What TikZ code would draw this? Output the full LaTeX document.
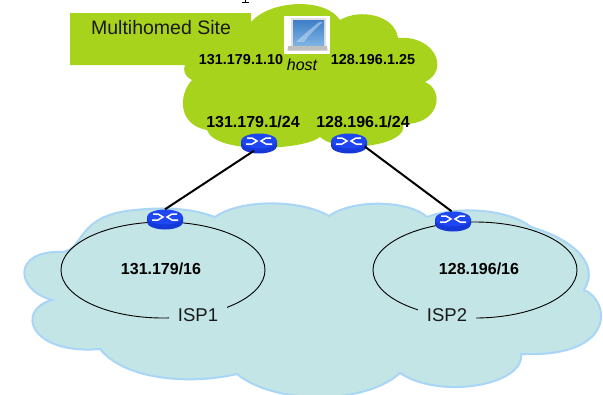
\documentclass[tikz,border=0pt]{standalone}
\usepackage{fontspec}
\setmainfont{Liberation Sans}
\usetikzlibrary{shapes.geometric}
\definecolor{sitegreen}{HTML}{A8D31C}
\definecolor{ispfill}{HTML}{C3E5E6}
\definecolor{ispedge}{HTML}{A9D5F6}
\definecolor{routerblue}{HTML}{1E46F2}
\definecolor{routerdark}{HTML}{1538D8}
\definecolor{screentop}{HTML}{3F7FC8}
\definecolor{screenlow}{HTML}{7DB2E2}
\tikzset{
  routerbase/.style={ellipse,minimum width=36pt,minimum height=15pt,inner sep=0pt,fill=routerblue},
  addr/.style={font=\bfseries\fontsize{14.4}{14.4}\selectfont,text=black,inner sep=0pt},
  subnet/.style={font=\bfseries\fontsize{16}{16}\selectfont,text=black,inner sep=0pt},
  plain/.style={font=\fontsize{18.5}{18.5}\selectfont,text=black!90,inner sep=0pt},
  link/.style={black,line width=2pt},
  isp/.style={draw=black,line width=0.9pt},
  ispname/.style={plain,fill=ispfill,text width=#1,align=center,minimum height=20pt}
}
\newcommand{\routerat}[3]{%
  \fill[routerdark] (#2-18,#3) -- (#2-18,#3+5) arc[start angle=180,end angle=0,x radius=18,y radius=7.5] -- (#2+18,#3) -- cycle;
  \node[routerbase] (#1) at (#2,#3) {};
  \draw[white,line width=1.5pt] (#2-12,#3-3) -- (#2-7,#3-3) -- (#2-2,#3) -- (#2-7,#3+3) -- (#2-13,#3+3)
        (#2+12,#3-3) -- (#2+7,#3-3) -- (#2+2,#3) -- (#2+7,#3+3) -- (#2+13,#3+3);
}
\begin{document}
\begin{tikzpicture}[x=1pt,y=-1pt]
\useasboundingbox (0,0) rectangle (603,394);
\begin{scope}
\clip (0,0) rectangle (603,394);
\fill[white] (0,0) rectangle (603,394);
% ISP cloud
\draw[fill=ispfill,draw=ispedge,line width=2pt]
  (215,217) .. controls (240,199) and (300,199) .. (329,216)
  .. controls (355,198) and (410,201) .. (427,217)
  .. controls (460,205) and (510,210) .. (531,227)
  .. controls (575,240) and (600,265) .. (584,290)
  .. controls (610,300) and (618,358) .. (521,354)
  .. controls (525,385) and (440,400) .. (400,373)
  .. controls (365,405) and (275,405) .. (237,374)
  .. controls (190,385) and (125,380) .. (100,349)
  .. controls (30,355) and (15,310) .. (52,300)
  .. controls (15,290) and (12,250) .. (62,252)
  .. controls (85,250) and (75,215) .. (135,210)
  .. controls (165,207) and (190,208) .. (215,217) -- cycle;
% Site cloud with label tab
\fill[sitegreen]
  (70,13) -- (251,13) -- (251,22)
  .. controls (270,0) and (325,-3) .. (340,20)
  .. controls (360,8) and (395,15) .. (398,38)
  .. controls (435,35) and (450,70) .. (425,82)
  .. controls (445,90) and (440,125) .. (403,124)
  .. controls (410,145) and (340,155) .. (320,137)
  .. controls (305,150) and (215,155) .. (207,130)
  .. controls (178,125) and (178,95) .. (192,80)
  .. controls (184,76) and (183,70) .. (185,65)
  -- (70,65) -- cycle;
\draw[black,line width=0.9pt] (242,2.6) -- (249,2.6) (245.5,0) -- (245.5,2.6);
\end{scope}
% provider rings
\draw[isp] (163,270) ellipse[x radius=102,y radius=48];
\draw[isp] (475,270) ellipse[x radius=102,y radius=48];
\node[ispname=58pt] (isp1) at (198,315) {ISP1};
\node[ispname=58pt] (isp2) at (447,315) {ISP2};
% host
\fill[white] (284,16) rectangle (330,54);
\fill[black!12] (291,18) rectangle (326,46);
\shade[top color=screentop,bottom color=screenlow] (293,20) rectangle (324,45);
\fill[screenlow!40!white,opacity=.5] (296,42) .. controls (304,34) and (312,28) .. (319,22) -- (323,22) .. controls (314,30) and (308,36) .. (304,42) -- cycle;
\fill[black!25] (288,46) -- (327,46) -- (327.5,50.5) -- (287.5,50.5) -- cycle;
\node[font=\itshape\fontsize{16}{16}\selectfont,inner sep=0pt] (host) at (302,65) {host};
% texts
\node[plain,font=\fontsize{19.5}{19.5}\selectfont] (site) at (161,28) {Multihomed Site};
\node[addr] (a1) at (241,59.5) {131.179.1.10};
\node[addr] (a2) at (373,60) {128.196.1.25};
\node[subnet] (s1) at (253,122) {131.179.1/24};
\node[subnet] (s2) at (363,122) {128.196.1/24};
\node[subnet] (p1) at (161,269) {131.179/16};
\node[subnet] (p2) at (479,269) {128.196/16};
% routers
\routerat{r1}{259}{141}
\routerat{r2}{349}{141}
\routerat{r3}{165}{217}
\routerat{r4}{453}{219}
\draw[link] (r1.-125) ++(0,2.5) -- (r3.90);
\draw[link] (r2.-13) ++(0,2) -- (r4.100);
\end{tikzpicture}
\end{document}
